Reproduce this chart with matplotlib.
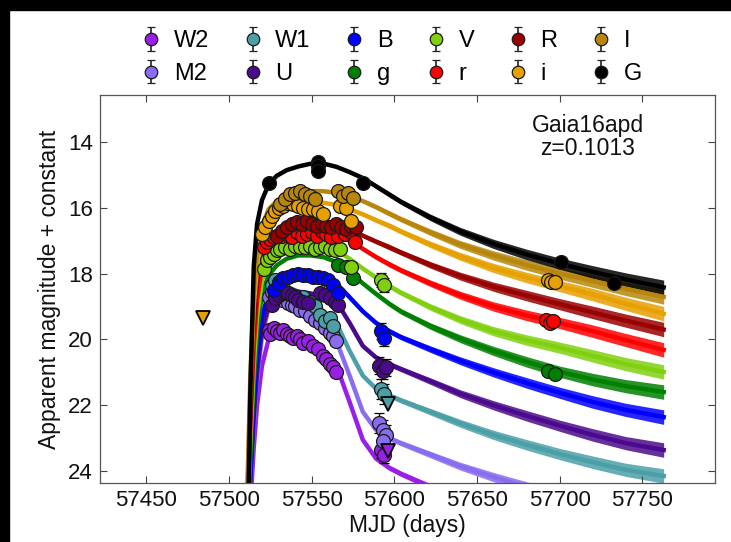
import numpy as np
import matplotlib.pyplot as plt
from matplotlib.patches import Rectangle

plt.rcParams['font.family'] = ['Liberation Sans', 'DejaVu Sans']

# grille des modèles (MJD)
t_mod = [57509, 57511, 57513, 57515, 57517, 57520, 57524, 57529, 57535, 57542, 57549,
         57557, 57565, 57573, 57581, 57589, 57597, 57604, 57622, 57640, 57660, 57680,
         57700, 57720, 57740, 57763]

# courbes modèles (magnitude apparente + constante)
mod_G = [31, 27, 21.5, 17.8, 16.5, 15.77, 15.3, 15.03, 14.86, 14.75, 14.67,
         14.66, 14.76, 14.92, 15.10, 15.35, 15.6, 15.82, 16.3, 16.72, 17.1, 17.42,
         17.7, 17.95, 18.18, 18.42]
mod_I = [28, 24.8, 21.0, 18.6, 17.4, 16.55, 16.05, 15.8, 15.64, 15.55, 15.5,
         15.5, 15.55, 15.65, 15.8, 15.98, 16.18, 16.35, 16.75, 17.12, 17.45, 17.74,
         18.0, 18.23, 18.47, 18.71]
mod_i = [29, 25.0, 21.5, 19.0, 17.8, 16.95, 16.5, 16.22, 16.02, 15.9, 15.85,
         15.85, 15.92, 16.05, 16.2, 16.38, 16.55, 16.72, 17.12, 17.48, 17.83, 18.12,
         18.38, 18.64, 18.92, 19.22]
mod_R = [29, 25.3, 22.2, 19.7, 18.3, 17.4, 16.95, 16.7, 16.5, 16.4, 16.38,
         16.42, 16.5, 16.65, 16.85, 17.03, 17.2, 17.36, 17.74, 18.08, 18.4, 18.67,
         18.93, 19.18, 19.43, 19.7]
mod_r = [29, 25.5, 22.5, 20.2, 18.8, 17.8, 17.3, 17.03, 16.85, 16.78, 16.75,
         16.78, 16.85, 17.0, 17.25, 17.5, 17.72, 17.9, 18.3, 18.66, 19.0, 19.27,
         19.5, 19.75, 20.02, 20.32]
mod_V = [29, 25.7, 23.0, 20.8, 19.3, 18.2, 17.7, 17.42, 17.25, 17.17, 17.15,
         17.18, 17.3, 17.55, 17.85, 18.12, 18.38, 18.58, 19.02, 19.4, 19.75, 20.02,
         20.25, 20.5, 20.75, 20.99]
mod_g = [29.5, 26, 23.5, 21.3, 19.8, 18.6, 18.05, 17.75, 17.55, 17.45, 17.45,
         17.5, 17.65, 17.95, 18.3, 18.62, 18.92, 19.15, 19.6, 19.98, 20.35, 20.68,
         20.98, 21.22, 21.42, 21.6]
mod_B = [30, 26.3, 24.0, 22.0, 20.5, 19.3, 18.6, 18.3, 18.15, 18.05, 18.02,
         18.1, 18.3, 18.72, 19.15, 19.5, 19.75, 19.93, 20.3, 20.65, 21.0, 21.32,
         21.62, 21.9, 22.14, 22.36]
mod_W1 = [30, 26.5, 24.2, 22.2, 20.7, 19.4, 18.7, 18.45, 18.4, 18.55, 18.85,
          19.15, 19.5, 20.35, 21.1, 21.5, 21.7, 21.85, 22.2, 22.55, 22.9, 23.2,
          23.48, 23.73, 23.96, 24.15]
mod_U = [30, 26.5, 24.3, 22.4, 21.0, 19.7, 19.0, 18.7, 18.58, 18.55, 18.6,
         18.7, 18.85, 19.5, 20.2, 20.55, 20.75, 20.9, 21.27, 21.65, 22.0, 22.32,
         22.62, 22.9, 23.15, 23.36]
mod_M2 = [30.5, 26.8, 24.5, 22.6, 21.2, 19.9, 19.05, 18.72, 18.75, 18.95, 19.25,
          19.6, 20.05, 21.1, 22.2, 22.75, 23.0, 23.15, 23.5, 23.85, 24.18, 24.48,
          24.75, 25.0, 25.2, 25.4]
mod_W2 = [31, 27.3, 25.0, 23.3, 22.0, 20.8, 20.0, 19.65, 19.7, 19.85, 20.05,
          20.35, 20.8, 21.9, 23.05, 23.62, 23.9, 24.08, 24.48, 24.82, 25.15, 25.45,
          25.72, 25.98, 26.22, 26.5]
# dispersion des réalisations du modèle (demi-largeur, mag)
spread = [0, 0, 0, 0, 0, 0, 0, 0.01, 0.02, 0.02, 0.03,
          0.03, 0.04, 0.05, 0.06, 0.07, 0.08, 0.08, 0.1, 0.12, 0.14, 0.16,
          0.17, 0.19, 0.2, 0.22]

# observations
W2_t = [57524, 57525, 57527, 57529, 57531, 57533, 57535, 57537, 57539, 57541,
        57543, 57545, 57548, 57551, 57554, 57557, 57559, 57561, 57563, 57565]
W2_m = [19.7, 19.85, 19.65, 19.75, 19.8, 19.7, 19.85, 19.9, 19.95, 19.9,
        20.0, 20.1, 20.05, 20.2, 20.3, 20.5, 20.6, 20.75, 20.85, 21.0]
M2_t = [57524, 57526, 57528, 57530, 57532, 57534, 57536, 57538, 57540, 57543,
        57546, 57549, 57552, 57555, 57558, 57561, 57563, 57565]
M2_m = [18.7, 18.55, 18.6, 18.65, 18.8, 18.75, 18.9, 18.95, 19.0, 19.1,
        19.15, 19.3, 19.4, 19.5, 19.65, 19.8, 19.9, 20.05]
W1_t = [57526, 57528, 57530, 57532, 57545, 57549, 57552, 57555, 57558, 57561, 57563]
W1_m = [18.35, 18.2, 18.25, 18.35, 18.7, 18.85, 19.0, 19.25, 19.45, 19.35, 19.6]
U_t = [57526, 57528, 57530, 57532, 57534, 57536, 57538, 57540, 57542, 57545,
       57548, 57555, 57558, 57561, 57564, 57566]
U_m = [18.95, 18.75, 18.65, 18.6, 18.55, 18.6, 18.65, 18.7, 18.8, 18.85,
       18.9, 18.6, 18.65, 18.75, 18.85, 18.95]
B_t = [57527, 57530, 57533, 57536, 57539, 57542, 57545, 57548, 57551, 57554,
       57557, 57560, 57563, 57566]
B_m = [18.5, 18.3, 18.15, 18.1, 18.05, 18.0, 18.05, 18.05, 18.1, 18.1,
       18.15, 18.2, 18.35, 18.6]
g_t = [57566, 57571, 57575, 57693, 57697]
g_m = [17.75, 17.8, 18.15, 20.95, 21.05]
V_t = [57521, 57523, 57525, 57527, 57529, 57531, 57534, 57537, 57540, 57543,
       57546, 57549, 57552, 57555, 57558, 57561, 57564, 57567, 57574]
V_m = [17.85, 17.6, 17.5, 17.4, 17.3, 17.25, 17.2, 17.25, 17.15, 17.2,
       17.2, 17.15, 17.25, 17.2, 17.15, 17.25, 17.3, 17.25, 17.8]
r_t = [57521, 57523, 57525, 57527, 57529, 57532, 57535, 57538, 57541, 57544,
       57547, 57550, 57553, 57556, 57559, 57562, 57566, 57570, 57574, 57576,
       57692, 57694, 57696]
r_m = [17.2, 17.05, 16.95, 16.9, 16.85, 16.85, 16.8, 16.9, 16.75, 16.85,
       16.8, 16.75, 16.85, 16.7, 16.8, 16.9, 16.85, 16.8, 16.75, 17.05,
       19.4, 19.5, 19.45]
R_t = [57529, 57532, 57535, 57538, 57541, 57544, 57547, 57550, 57553, 57556,
       57559, 57562, 57565, 57568, 57571, 57574, 57577]
R_m = [16.85, 16.7, 16.6, 16.5, 16.45, 16.5, 16.4, 16.5, 16.55, 16.5,
       16.55, 16.6, 16.5, 16.6, 16.65, 16.55, 16.6]
i_t = [57520, 57522, 57524, 57526, 57528, 57530, 57533, 57536, 57539, 57542,
       57545, 57548, 57551, 57554, 57557, 57567, 57571, 57574, 57693, 57695, 57697]
i_m = [16.8, 16.6, 16.4, 16.25, 16.1, 16.0, 15.95, 15.85, 15.9, 15.95,
       16.0, 16.05, 16.05, 16.1, 16.2, 15.95, 16.0, 16.4, 18.2, 18.25, 18.25]
I_t = [57531, 57534, 57537, 57540, 57543, 57546, 57549, 57552, 57566, 57569, 57572, 57575]
I_m = [15.9, 15.75, 15.6, 15.55, 15.5, 15.6, 15.65, 15.75, 15.5, 15.65, 15.55, 15.7]
G_t = [57524, 57554, 57554, 57554, 57581, 57701, 57733]
G_m = [15.25, 14.6, 14.75, 14.9, 15.25, 17.65, 18.3]

# points tardifs Swift (avec barres d'erreur)
W2_t2, W2_m2, W2_e2 = [57592, 57594], [23.35, 23.5], [0.25, 0.25]
M2_t2, M2_m2, M2_e2 = [57591, 57593, 57595, 57593], [22.55, 22.75, 22.9, 23.1], [0.3, 0.3, 0.3, 0.3]
W1_t2, W1_m2, W1_e2 = [57592, 57594], [21.5, 21.65], [0.3, 0.3]
U_t2, U_m2, U_e2 = [57591, 57593, 57595], [20.8, 20.95, 20.85], [0.25, 0.25, 0.25]
B_t2, B_m2, B_e2 = [57592, 57594], [19.75, 19.95], [0.25, 0.25]
V_t2, V_m2, V_e2 = [57592, 57594], [18.2, 18.35], [0.22, 0.22]

# limites supérieures
lim_band = ['i', 'W1', 'W2']
lim_t = [57484.5, 57596, 57596]
lim_m = [19.35, 21.95, 23.4]

bands = ['W2', 'M2', 'W1', 'U', 'B', 'g', 'V', 'r', 'R', 'i', 'I', 'G']
colors = {'W2': '#9a1fe6', 'M2': '#8a6cf0', 'W1': '#4aa0a6', 'U': '#4b0a8c',
          'B': '#0000ff', 'g': '#008000', 'V': '#80d010', 'r': '#ff0000',
          'R': '#990000', 'i': '#e6a000', 'I': '#b8860b', 'G': '#000000'}
models = {'W2': mod_W2, 'M2': mod_M2, 'W1': mod_W1, 'U': mod_U, 'B': mod_B,
          'g': mod_g, 'V': mod_V, 'r': mod_r, 'R': mod_R, 'i': mod_i,
          'I': mod_I, 'G': mod_G}
obs = {'W2': (W2_t, W2_m), 'M2': (M2_t, M2_m), 'W1': (W1_t, W1_m), 'U': (U_t, U_m),
       'B': (B_t, B_m), 'g': (g_t, g_m), 'V': (V_t, V_m), 'r': (r_t, r_m),
       'R': (R_t, R_m), 'i': (i_t, i_m), 'I': (I_t, I_m), 'G': (G_t, G_m)}
late = {'W2': (W2_t2, W2_m2, W2_e2), 'M2': (M2_t2, M2_m2, M2_e2),
        'W1': (W1_t2, W1_m2, W1_e2), 'U': (U_t2, U_m2, U_e2),
        'B': (B_t2, B_m2, B_e2), 'V': (V_t2, V_m2, V_e2)}

fig = plt.figure(figsize=(7.31, 5.42), dpi=100)
ax = fig.add_axes([0.1368, 0.1089, 0.8412, 0.7158])

t = np.array(t_mod)
sp = np.array(spread)
for k, b in enumerate(bands):
    m = np.array(models[b])
    ax.fill_between(t, m - sp, m + sp, color=colors[b], lw=0, alpha=0.85, zorder=1 + k * 0.01)
    ax.plot(t, m, color=colors[b], lw=3.2, zorder=1.5 + k * 0.01, solid_joinstyle='round')

for b in bands:
    tt, mm = obs[b]
    ax.plot(tt, mm, 'o', ms=10, mfc=colors[b], mec='#1a1a1a', mew=0.9, zorder=4)
    if b == 'G':
        ax.errorbar(tt, mm, yerr=0.08, fmt='none', ecolor='k', capsize=3, lw=1, zorder=3.9)
    if b in late:
        tl, ml, el = late[b]
        ax.errorbar(tl, ml, yerr=el, fmt='o', ms=10, mfc=colors[b], mec='#1a1a1a', mew=0.9,
                    ecolor='k', elinewidth=1, capsize=3.5, zorder=4)

for b, tt, mm in zip(lim_band, lim_t, lim_m):
    ax.plot(tt, mm, 'v', ms=10.5, mfc=colors[b], mec='k', mew=1.3, zorder=4.5)

ax.set_xlim(57422, 57794)
ax.set_ylim(24.36, 12.58)
ax.set_xticks(np.arange(57450, 57751, 50))
ax.set_yticks(np.arange(14, 25, 2))
ax.tick_params(direction='in', top=True, right=True, length=5, width=0.8,
               labelsize=16, colors='#444444', labelcolor='#111111', pad=5)
for s in ax.spines.values():
    s.set_color('#555555')
    s.set_linewidth(0.9)
ax.set_xlabel('MJD (days)', fontsize=16.5, color='#111111', labelpad=2)
ax.set_ylabel('Apparent magnitude + constant', fontsize=16.5, color='#111111', labelpad=5)

ax.text(0.793, 0.892, 'Gaia16apd\nz=0.1013', transform=ax.transAxes, ha='center',
        va='center', fontsize=16.5, linespacing=1.0, color='#111111')

# légende
handles = []
for b in bands:
    h = ax.errorbar([np.nan], [np.nan], yerr=[1], fmt='o', ms=9, mfc=colors[b],
                    mec='#1a1a1a', mew=0.9, ecolor='#222222', elinewidth=1.2, capsize=3)
    handles.append(h)
fig.legend(handles, bands, ncol=6, loc='center', bbox_to_anchor=(0.536, 0.894),
           frameon=False, fontsize=17, handlelength=0.8, handletextpad=0.55,
           columnspacing=1.45, labelspacing=0.45, borderpad=0)

# bordure noire de la capture
fig.patches.append(Rectangle((0, 0), 9 / 731, 1, transform=fig.transFigure,
                             color='k', zorder=10))
fig.patches.append(Rectangle((0, 1 - 10 / 542), 1, 10 / 542, transform=fig.transFigure,
                             color='k', zorder=10))

fig.savefig('out.png', dpi=100, facecolor='white')
